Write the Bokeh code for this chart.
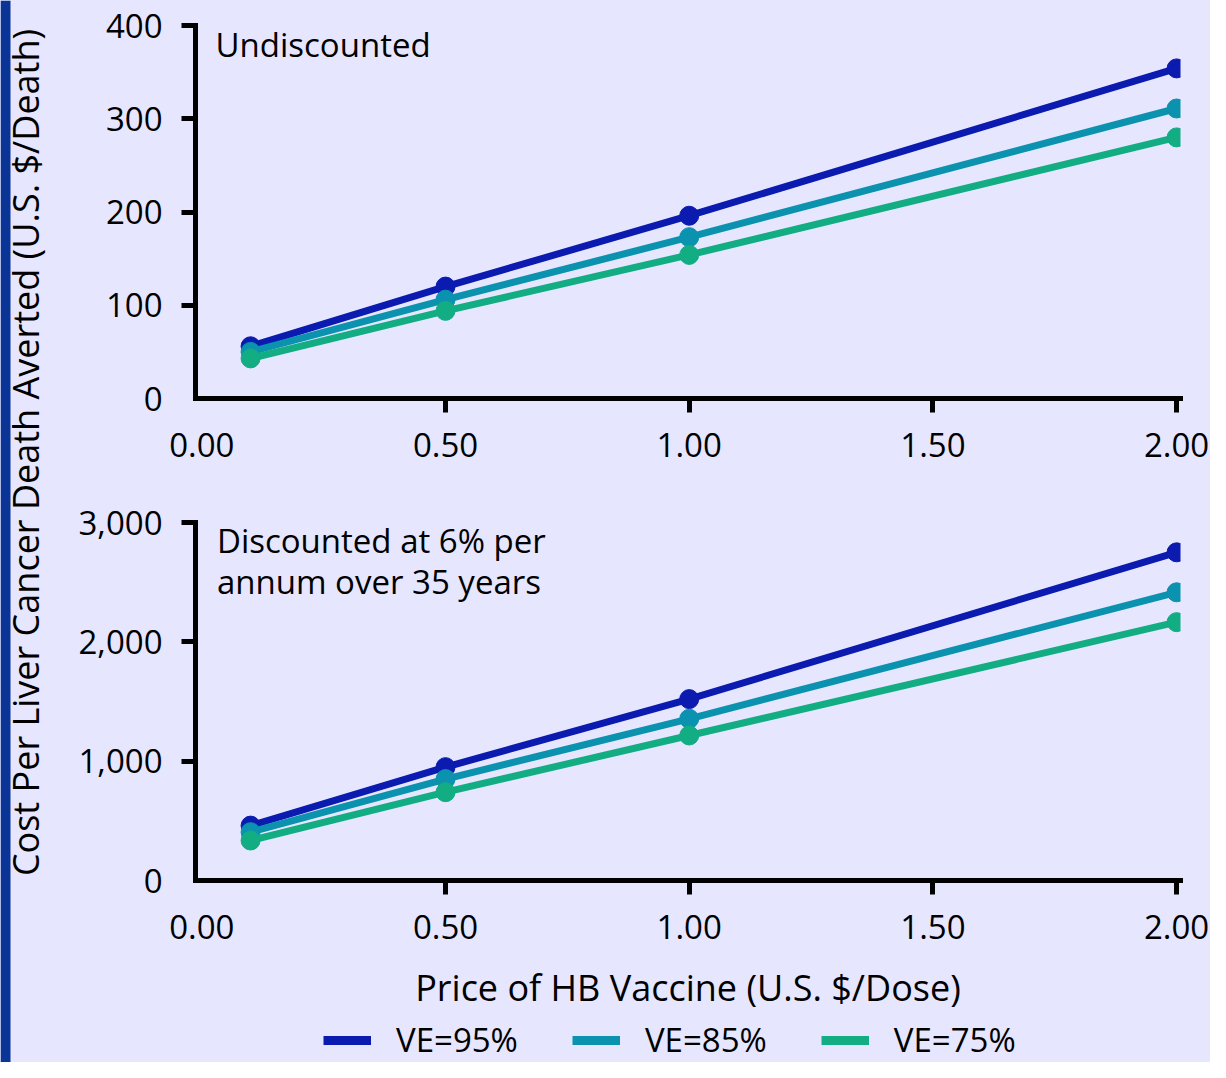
from math import pi
from bokeh.plotting import figure
from bokeh.models import (Range1d, FixedTicker, Label, Legend, LegendItem,
                          NumeralTickFormatter, BoxAnnotation)
from bokeh.layouts import row, column
from bokeh.embed import file_html
from bokeh.resources import INLINE

# ---------------- data ----------------
price = [0.1, 0.5, 1.0, 2.0]
undisc_ve95 = [56, 120, 196, 354]
undisc_ve85 = [50, 106, 173, 311]
undisc_ve75 = [43, 94, 154, 280]
disc_ve95 = [460, 950, 1520, 2750]
disc_ve85 = [405, 850, 1355, 2415]
disc_ve75 = [335, 740, 1215, 2165]
series_labels = ["VE=95%", "VE=85%", "VE=75%"]
x_ticks = [0, 0.5, 1.0, 1.5, 2.0]
top_y_ticks = [0, 100, 200, 300, 400]
bot_y_ticks = [0, 1000, 2000, 3000]
top_title = "Undiscounted"
bot_title_1 = "Discounted at 6% per"
bot_title_2 = "annum over 35 years"
x_title = "Price of HB Vaccine (U.S. $/Dose)"
y_title = "Cost Per Liver Cancer Death Averted (U.S. $/Death)"

# ---------------- style ----------------
BG = "#E6E6FF"
STRIPE = "#0A3596"
colors = ["#0B1BB0", "#0B92AE", "#12AD82"]
FONT = "Open Sans"
FS = "33px"
TFS = "36px"
XR = (-0.013, 2.008)


def style_axis(ax, ticks, fmt, standoff):
    ax.ticker = FixedTicker(ticks=ticks, minor_ticks=[t for t in ticks if t != 0])
    ax.formatter = NumeralTickFormatter(format=fmt)
    ax.axis_line_width = 5
    ax.axis_line_color = "black"
    ax.axis_line_cap = "square"
    ax.major_tick_out = 0
    ax.major_tick_in = 0
    ax.minor_tick_out = 14
    ax.minor_tick_in = 0
    ax.minor_tick_line_width = 5
    ax.minor_tick_line_color = "black"
    ax.major_label_standoff = standoff
    ax.major_label_text_font = FONT
    ax.major_label_text_font_size = FS
    ax.major_label_text_color = "black"


def make_plot(width, height, xr, yr, mbl, mbr, mbt, mbb):
    p = figure(width=width, height=height, x_range=Range1d(*xr), y_range=Range1d(*yr),
               output_backend="svg", toolbar_location=None,
               min_border_left=mbl, min_border_right=mbr,
               min_border_top=mbt, min_border_bottom=mbb)
    p.background_fill_color = BG
    p.border_fill_color = BG
    p.outline_line_color = None
    p.grid.visible = False
    return p


def draw_series(p, series):
    for vals, c in zip(series, colors):
        p.line(price, vals, line_width=7, color=c, line_join="round")
        p.scatter(price, vals, size=19, color=c)


# top panel
top = make_plot(1142, 490, XR, (0, 400), 127, 30, 25, 92)
style_axis(top.xaxis[0], x_ticks, "0.00", 20)
style_axis(top.yaxis[0], top_y_ticks, "0,0", 19)
draw_series(top, [undisc_ve95, undisc_ve85, undisc_ve75])
top.add_layout(Label(x=0.028, y=380, text=top_title, text_font=FONT,
                     text_font_size=FS, text_baseline="alphabetic", text_color="black"))

# bottom panel
bot = make_plot(1142, 524, XR, (0, 3000), 127, 30, 32, 134)
style_axis(bot.xaxis[0], x_ticks, "0.00", 20)
style_axis(bot.yaxis[0], bot_y_ticks, "0,0", 19)
bot.xaxis[0].axis_label = x_title
bot.xaxis[0].axis_label_text_font = FONT
bot.xaxis[0].axis_label_text_font_size = TFS
bot.xaxis[0].axis_label_text_font_style = "normal"
bot.xaxis[0].axis_label_text_color = "black"
bot.xaxis[0].axis_label_standoff = 21
draw_series(bot, [disc_ve95, disc_ve85, disc_ve75])
bot.add_layout(Label(x=0.031, y=2850, text=bot_title_1, text_font=FONT,
                     text_font_size=FS, text_baseline="alphabetic", text_color="black"))
bot.add_layout(Label(x=0.031, y=2506, text=bot_title_2, text_font=FONT,
                     text_font_size=FS, text_baseline="alphabetic", text_color="black"))

# legend strip (legend renderers hold the series but lie outside the visible range)
leg = figure(width=1142, height=48, x_range=Range1d(*XR), y_range=Range1d(-20000, -19999),
             output_backend="svg", toolbar_location=None, min_border=0,
             x_axis_location=None, y_axis_location=None)
leg.background_fill_color = BG
leg.border_fill_color = BG
leg.outline_line_color = None
leg.grid.visible = False
items = []
for lab, vals, c in zip(series_labels, [disc_ve95, disc_ve85, disc_ve75], colors):
    r = leg.line(price, vals, line_width=9, color=c)
    items.append(LegendItem(label=lab, renderers=[r]))
legend = Legend(items=items, orientation="horizontal", location=(128, 0),
                padding=0, margin=0, spacing=54, glyph_width=48, glyph_height=30,
                label_standoff=25, label_text_font=FONT, label_text_font_size=FS,
                label_text_color="black", border_line_color=None,
                background_fill_alpha=0)
leg.add_layout(legend)

# left strip with shared y title
left = figure(width=68, height=1062, x_range=Range1d(0, 68), y_range=Range1d(0, 1062),
              output_backend="svg", toolbar_location=None, min_border=0,
              x_axis_location=None, y_axis_location=None)
left.background_fill_color = BG
left.border_fill_color = BG
left.outline_line_color = None
left.grid.visible = False
left.add_layout(BoxAnnotation(left=0, right=10, fill_color=STRIPE, fill_alpha=1,
                              line_color=None))
left.add_layout(Label(x=25, y=610, text=y_title, angle=pi / 2, text_align="center",
                      text_baseline="middle", text_font=FONT, text_font_size=TFS,
                      text_color="black"))

layout = row(left, column(top, bot, leg, spacing=0), spacing=0)
layout.styles = {"background-color": BG}

open("out.html", "w").write(file_html(layout, INLINE))
